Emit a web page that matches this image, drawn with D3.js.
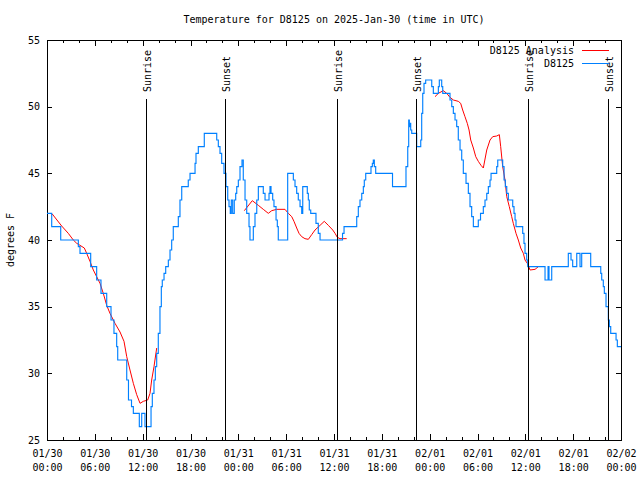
<!DOCTYPE html>
<html><head><meta charset="utf-8">
<script src="https://cdn.jsdelivr.net/npm/d3@7"></script>
<style>
body{margin:0;background:#fff}
svg{display:block}
text{font-family:"DejaVu Sans Mono",monospace;font-size:10px;fill:#000}
</style>
</head><body><svg id="c" width="640" height="480"></svg>
<script>
// ---- data (hours since 2025-01-30 00:00 UTC, degrees F) ----
const titleText = "Temperature for D8125 on 2025-Jan-30 (time in UTC)";
const yLabelText = "degrees F";
const yTicks = [25, 30, 35, 40, 45, 50, 55];
const seriesNames = ["D8125 Analysis", "D8125"];

// observed D8125 temperature, change points [hour, temp]
const obsD8125 = [
[0,42],[0.59,41],[1.72,40],[3.93,39.5],[4.14,39],[5.48,38],[6.23,37],[6.77,36],[7.49,35],[8.03,34],
[8.40,33],[8.74,32],[8.87,31],[10.00,29.5],[10.22,28],[10.60,27.5],[10.83,27],[11.58,26],[11.88,27],[12.29,26],
[13.05,27.5],[13.21,28.5],[13.42,29.5],[13.59,30.5],[13.76,31.5],[13.96,33],[14.17,35],[14.34,36.5],[14.46,37],[14.68,37.5],
[14.89,38],[15.22,38.5],[15.43,39.25],[15.64,40],[15.84,41],[16.47,41.75],[16.68,43],[16.90,44],[17.72,44.5],[17.94,45],
[18.57,45.75],[18.69,46.5],[18.98,47],[19.73,48],[21.29,47.5],[21.49,47],[21.70,46.5],[21.91,45.75],[22.20,45],[22.45,44],
[22.67,43],[22.83,42.5],[22.99,42],[23.12,43],[23.29,42],[23.49,43],[23.67,43.5],[23.80,44],[24.00,44.5],[24.21,45.5],
[24.46,46],[24.62,44.5],[24.84,43],[25.05,42],[25.34,41],[25.46,40],[25.88,41],[26.09,42],[26.31,43],[26.51,44],
[27.13,43.5],[27.35,43],[27.85,43.5],[27.97,44],[28.10,43.5],[28.31,43],[28.47,42.5],[28.73,41.5],[28.89,41],[29.01,40],
[30.19,45],[30.90,44.5],[31.11,44],[31.32,43.5],[31.52,43],[31.74,42.5],[31.95,42],[32.08,44],[32.65,43.5],[32.78,43],
[32.90,42.25],[33.08,42],[33.74,41.25],[34.03,40.5],[34.25,40],[37.07,40.5],[37.26,41],[38.85,41.75],[39.05,42.5],[39.26,43],
[39.48,43.5],[39.68,44],[39.80,44.5],[39.98,45],[40.64,45.5],[40.81,45.75],[40.93,46],[41.06,45.5],[41.23,45],[43.34,44],
[45.03,45.5],[45.25,47],[45.37,49],[45.45,48.5],[45.53,48.75],[45.62,48.25],[45.75,48],[46.37,47],[46.88,47.5],[47.00,49.5],
[47.13,51],[47.29,51.75],[47.50,52],[48.26,51.5],[48.46,51],[49.09,51.5],[49.21,52],[49.51,51.5],[49.64,51],[50.55,50.5],
[50.77,50],[50.97,49.5],[51.18,49],[51.39,48.5],[51.59,47.5],[51.81,46.75],[52.02,46],[52.22,45],[52.56,44.25],[52.85,43.5],
[53.06,42.5],[53.27,41.75],[53.48,41],[54.10,41.5],[54.38,42],[54.73,42.5],[54.94,43],[55.16,43.5],[55.36,44],[55.57,44.5],
[55.70,45],[56.41,45.5],[56.54,46],[57.16,45.5],[57.33,44.5],[57.49,44],[57.67,43.5],[57.87,43],[58.42,42.5],[58.58,42],
[58.71,41.5],[58.83,41],[59.67,40.5],[59.83,39.75],[59.96,39],[60.17,38.5],[60.30,38],[62.47,37],[62.85,38],[62.97,37],
[63.31,38],[65.39,39],[65.73,38.5],[65.94,38],[66.45,39],[66.86,38],[67.07,39],[68.20,38],[69.46,37.5],[69.58,37],
[69.78,36.5],[69.91,36],[70.12,35],[70.41,34],[70.54,33.5],[70.71,33],[71.38,32.5],[71.54,32],[72.00,32]
];

// analysis temperature [hour, temp]; null marks a gap
const analysisD8125 = [
[0.38,42],[0.66,41.95],[1.84,41.05],[2.67,40.5],[3.30,40],[3.73,39.75],[4.14,39.6],[4.68,39.4],[4.98,39],[5.39,38.4],
[5.81,37.75],[6.23,37.25],[6.65,36.75],[7.06,36],[7.49,35.1],[7.90,34.5],[8.53,33.75],[9.16,33.1],[9.66,32.4],[10.00,31.25],
[10.41,30.25],[10.83,29.25],[11.25,28.4],[11.67,27.75],[12.08,27.9],[12.63,28],[12.92,28.5],[13.13,29.5],[13.42,30.5],[13.76,31.9],
[null,null],
[24.75,42.2],[25.75,42.95],[26.51,42.6],[27.13,42.3],[27.76,42],[28.19,42.2],[28.81,42.3],[29.85,42.3],[30.27,42],[30.70,41.75],
[30.98,41.4],[31.32,40.9],[31.61,40.5],[31.95,40.25],[32.36,40.1],[32.78,40.05],[33.20,40.4],[33.62,40.75],[34.25,41.1],[34.78,41.4],
[35.29,41.1],[35.84,40.75],[36.13,40.5],[36.42,40.2],[36.75,40.1],[37.59,40.1],
[null,null],
[48.67,50.75],[49.09,51],[49.71,51.2],[50.14,51],[50.55,50.7],[50.97,50.5],[51.59,50.4],[51.89,50.25],[52.14,49.75],[52.43,49.25],
[52.72,48.75],[52.94,48.25],[53.15,47.5],[53.48,46.9],[53.78,46.25],[54.10,45.9],[54.44,45.6],[54.73,45.4],[55.16,46.75],[55.57,47.5],
[55.91,47.75],[56.41,47.8],[56.74,47.9],[56.91,47],[57.16,45.5],[57.45,44.5],[57.67,43.25],[57.99,42.5],[58.29,41.75],[58.49,41.25],
[58.83,40.5],[59.12,40],[59.42,39.4],[59.75,39],[59.96,38.5],[60.25,38.25],[60.43,38],[60.59,37.75],[61.22,37.8],[61.63,38]
];

const sunHours = [12.36, 22.35, 36.38, 46.33, 60.37, 70.41];
const sunLabels = ["Sunrise", "Sunset", "Sunrise", "Sunset", "Sunrise", "Sunset"];

// ---- drawing ----
const t0 = Date.UTC(2025, 0, 30);
const toDate = h => new Date(t0 + h * 3600000);
const m = {l: 47, r: 621, t: 40, b: 440};
const x = d3.scaleUtc().domain([toDate(0), toDate(72)]).range([m.l, m.r]);
const y = d3.scaleLinear().domain([25, 55]).range([m.b, m.t]);
const svg = d3.select("#c");

svg.append("text").attr("x", (m.l + m.r) / 2).attr("y", 23)
  .attr("text-anchor", "middle").text(titleText);
svg.append("text").attr("transform", "translate(14,240) rotate(-90)")
  .attr("text-anchor", "middle").text(yLabelText);

const fmtD = d3.utcFormat("%m/%d"), fmtT = d3.utcFormat("%H:%M");
const major = x.ticks(d3.utcHour.every(6));
const minor = x.ticks(d3.utcHour.every(2));

function styleAxis(g) {
  g.select(".domain").remove();
  g.selectAll(".tick line").attr("stroke", "#000").attr("shape-rendering", "crispEdges");
}

// minor ticks
svg.append("g").attr("transform", `translate(0,${m.b})`)
  .call(d3.axisBottom(x).tickValues(minor).tickSize(-3).tickFormat(""))
  .call(styleAxis);
svg.append("g").attr("transform", `translate(0,${m.t})`)
  .call(d3.axisTop(x).tickValues(minor).tickSize(-3).tickFormat(""))
  .call(styleAxis);

// major x ticks with two-line labels
const gx = svg.append("g").attr("transform", `translate(0,${m.b})`)
  .call(d3.axisBottom(x).tickValues(major).tickSizeInner(-6).tickSizeOuter(0).tickFormat(""))
  .call(styleAxis);
gx.selectAll(".tick text").each(function(d) {
  const t = d3.select(this).attr("y", null).attr("dy", null).attr("fill", "#000");
  t.append("tspan").attr("x", 0).attr("y", 17).text(fmtD(d));
  t.append("tspan").attr("x", 0).attr("y", 31).text(fmtT(d));
});
svg.append("g").attr("transform", `translate(0,${m.t})`)
  .call(d3.axisTop(x).tickValues(major).tickSize(-6).tickFormat(""))
  .call(styleAxis);

// y axes
svg.append("g").attr("transform", `translate(${m.l},0)`)
  .call(d3.axisLeft(y).tickValues(yTicks).tickSizeInner(-5).tickSizeOuter(0).tickPadding(7))
  .call(styleAxis)
  .call(g => g.selectAll("text").attr("fill", "#000"));
svg.append("g").attr("transform", `translate(${m.r},0)`)
  .call(d3.axisRight(y).tickValues(yTicks).tickSize(-5).tickFormat(""))
  .call(styleAxis);
svg.selectAll("g text").style("font-family", "DejaVu Sans Mono").style("font-size", "10px");

// border
svg.append("rect").attr("x", m.l).attr("y", m.t).attr("width", m.r - m.l).attr("height", m.b - m.t)
  .attr("fill", "none").attr("stroke", "#000").attr("shape-rendering", "crispEdges");

// series
const redLine = d3.line().defined(d => d[0] != null)
  .x(d => x(toDate(d[0]))).y(d => y(d[1]));
svg.append("path").datum(analysisD8125).attr("d", redLine)
  .attr("fill", "none").attr("stroke", "#ff0000").attr("stroke-width", 1);

const blueLine = d3.line().curve(d3.curveStepAfter)
  .x(d => x(toDate(d[0]))).y(d => y(d[1]));
svg.append("path").datum(obsD8125).attr("d", blueLine)
  .attr("fill", "none").attr("stroke", "#0080ff").attr("stroke-width", 1.15);

// sunrise / sunset markers
sunHours.forEach((h, i) => {
  const xx = Math.round(x(toDate(h))) + 0.5;
  svg.append("line").attr("x1", xx).attr("x2", xx).attr("y1", 99).attr("y2", m.b)
    .attr("stroke", "#000").attr("stroke-width", 1);
  svg.append("text").attr("transform", `translate(${xx + 4},92) rotate(-90)`)
    .attr("text-anchor", "start").text(sunLabels[i]);
});

// legend
const legColors = ["#ff0000", "#0080ff"];
seriesNames.forEach((n, i) => {
  const yy = 50 + i * 13;
  svg.append("text").attr("x", 574).attr("y", yy + 3.5).attr("text-anchor", "end").text(n);
  svg.append("line").attr("x1", 582).attr("x2", 609).attr("y1", yy + 0.5).attr("y2", yy + 0.5)
    .attr("stroke", legColors[i]).attr("stroke-width", 1);
});
</script>
</body></html>
